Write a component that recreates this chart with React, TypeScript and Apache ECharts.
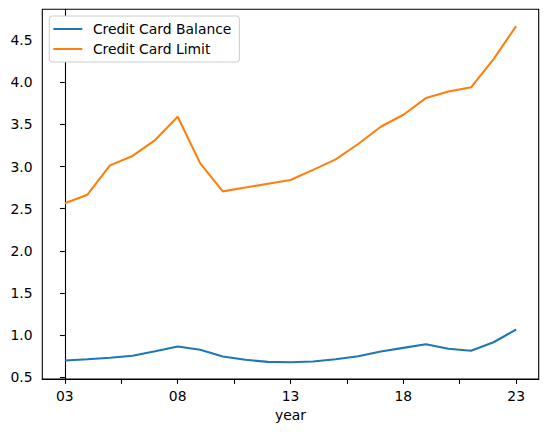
import React, { useEffect, useRef } from "react";
import * as echarts from "echarts";

const years = ["03","04","05","06","07","08","09","10","11","12","13","14","15","16","17","18","19","20","21","22","23"];
const balance = [0.698,0.713,0.73,0.754,0.808,0.864,0.825,0.745,0.706,0.682,0.678,0.686,0.713,0.749,0.805,0.848,0.891,0.837,0.813,0.915,1.066];
const limit = [2.563,2.666,3.013,3.125,3.314,3.591,3.037,2.705,2.75,2.795,2.84,2.96,3.084,3.267,3.472,3.614,3.812,3.89,3.94,4.275,4.666];
const xTicks = [0, 2.5, 5, 7.5, 10, 12.5, 15, 17.5, 20];
const xLabels = [0, 5, 10, 15, 20];
const yTicks = [0.5, 1.0, 1.5, 2.0, 2.5, 3.0, 3.5, 4.0, 4.5];

const FONT = "DejaVu Sans";
const FS = 13.9;

export default function App() {
  const ref = useRef<HTMLDivElement>(null);
  useEffect(() => {
    const chart = echarts.init(ref.current!, null, { renderer: "svg" });
    const tickStyle = { color: "#000", width: 1.1 };
    chart.setOption({
      animation: false,
      backgroundColor: "#fff",
      grid: {
        left: 42.3, right: 8.3, top: 9.3, bottom: 53,
        show: true, borderColor: "#000", borderWidth: 1.1, backgroundColor: "transparent",
      },
      legend: {
        orient: "vertical",
        left: 49.3, top: 16,
        padding: [5, 8, 5, 4],
        itemGap: 4,
        itemWidth: 29, itemHeight: 2,
        icon: "rect",
        backgroundColor: "#fff",
        borderColor: "#ccc", borderWidth: 1, borderRadius: 3,
        textStyle: { fontFamily: FONT, fontSize: FS, color: "#000", lineHeight: 16, padding: [0, 0, 0, 5.6] },
        data: ["Credit Card Balance", "Credit Card Limit"],
      },
      xAxis: {
        type: "value", min: -1, max: 21,
        name: "year", nameLocation: "middle", nameGap: 27,
        nameTextStyle: { fontFamily: FONT, fontSize: FS, color: "#000" },
        axisLine: { show: true, lineStyle: tickStyle },
        axisTick: { show: true, length: 4.86, lineStyle: tickStyle, customValues: xTicks },
        axisLabel: {
          customValues: xLabels, margin: 9.7,
          fontFamily: FONT, fontSize: FS, color: "#000",
          formatter: (v: number) => years[Math.round(v)] ?? "",
        },
        splitLine: { show: false },
      },
      yAxis: {
        type: "value", min: 0.4786, max: 4.8654,
        axisLine: { show: true, lineStyle: tickStyle },
        axisTick: { show: true, length: 4.86, lineStyle: tickStyle, customValues: yTicks },
        axisLabel: {
          customValues: yTicks, margin: 9.7,
          fontFamily: FONT, fontSize: FS, color: "#000",
          formatter: (v: number) => v.toFixed(1),
        },
        splitLine: { show: false },
      },
      series: [
        {
          name: "Credit Card Balance", type: "line", symbol: "none",
          lineStyle: { color: "#1f77b4", width: 2.08 }, itemStyle: { color: "#1f77b4" },
          data: balance.map((v, i) => [i, v]),
        },
        {
          name: "Credit Card Limit", type: "line", symbol: "none",
          lineStyle: { color: "#ff7f0e", width: 2.08 }, itemStyle: { color: "#ff7f0e" },
          data: limit.map((v, i) => [i, v]),
        },
      ],
    });
    return () => chart.dispose();
  }, []);
  return <div ref={ref} style={{ position: "fixed", left: 0, top: 0, width: 547, height: 432 }} />;
}
